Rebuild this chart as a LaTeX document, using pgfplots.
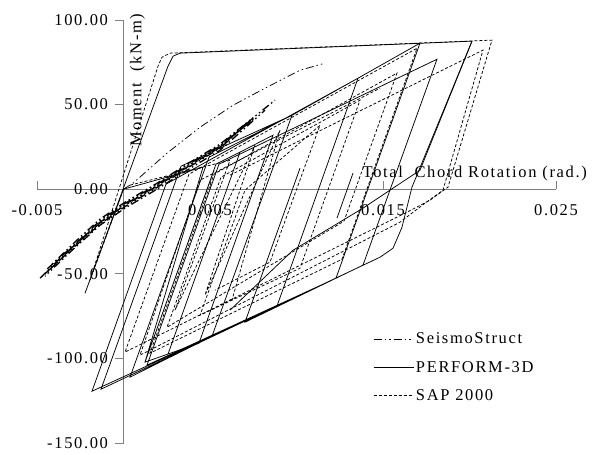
\documentclass[border=0pt]{standalone}
\usepackage{fontspec}
\setmainfont{Liberation Serif}[LetterSpace=10]
\usepackage{pgfplots}
\pgfplotsset{compat=1.18}
\newcommand\fsz{\fontsize{16.5bp}{19bp}\selectfont}

% series styles
\tikzset{
  perf/.style={black, line width=0.75bp},
  sap/.style={black, line width=0.75bp, dash pattern=on 3bp off 2bp},
  seismo/.style={black, line width=0.75bp, dash pattern=on 8bp off 3bp on 1.5bp off 3bp on 1.5bp off 3bp},
}

\begin{document}
\begin{tikzpicture}
\begin{axis}[
  scale only axis, width=519bp, height=423bp,
  xmin=-0.005, xmax=0.025, ymin=-150, ymax=100,
  axis lines=middle,
  axis line style={draw=gray, line width=0.8bp, -},
  scaled x ticks=false, scaled y ticks=false,
  xtick={-0.005,0.005,0.015,0.025},
  xticklabels={\mbox{-0.005},\mbox{0.005},\mbox{0.015},\mbox{0.025}},
  ytick={-150,-100,-50,0,50,100},
  yticklabels={\mbox{-150.00},\mbox{-100.00},\mbox{-50.00},\mbox{0.00},\mbox{50.00},\mbox{100.00}},
  hide obscured x ticks=false, hide obscured y ticks=false,
  tick align=center, major tick length=8bp,
  tick style={draw=gray, line width=0.8bp},
  xtick style={yshift=4bp},
  ytick style={xshift=-4bp},
  tick label style={font=\fsz},
  xticklabel style={anchor=north, yshift=-8bp},
  yticklabel style={anchor=east, xshift=-8bp},
  clip=false,
  legend style={draw=none, fill=none, font=\fsz, at={(axis cs:0.01425,-82.4)}, anchor=north west, row sep=12bp},
  legend cell align=left,
  legend image code/.code={\draw[#1] (0bp,0bp) -- (40bp,0bp);},
]
\coordinate (O) at (axis cs:-0.005,-150);

% SeismoStruct
\addplot[seismo] coordinates {
(0,0) (0.000549,3.5) (0.002514,21.3) (0.004422,36.6) (0.006329,49.6) (0.008294,60.3) (0.010202,70.3) (0.011647,74.5)
};
\addlegendentry{SeismoStruct}

% PERFORM-3D
\addplot[perf] coordinates {
(0,0) (-0.002225,-61.5) (0.002572,72.7) (0.002861,78.6) (0.003266,80.4) (0.020143,87.5)
(0.016675,1.2) (0.016097,-22.5) (0.015577,-34.9) (0.014826,-40.2) (-0.0013,-118.2)
(0.003324,13.6) (0.004422,18.9) (0.009739,43.7) (0.005115,-86.9) (0.000376,-111.1)
(0.004942,18.9) (0.009739,43.7) (0.013554,65.6) (0.008872,-69.1) (-0.001821,-119.4)
(0.002457,3.0) (0.013554,65.6) (0.017138,86.3) (0.012283,-52.6) (0.001358,-104.0)
(0.00552,14.8) (0.01812,76.8) (0.013843,-44.9) (0.007023,-78.6) (0.010202,12.4)
};
\addlegendentry{PERFORM-3D}

% SAP 2000
\addplot[sap] coordinates {
(0,0) (-0.001936,-53.8) (0.001994,72.7) (0.002225,78.0) (0.002688,80.4) (0.021299,88.1)
(0.018756,1.2) (0.017716,-6.5) (0.016386,-13.6) (0.000087,-96.3)
(0.003786,8.9) (0.016964,83.3) (0.012629,-41.4) (0.001532,-96.9)
(0.005231,8.9) (0.015808,68.6) (0.012745,-18.9) (0.002514,-81.6)
(0.005636,7.1) (0.01367,52.6) (0.010202,-46.7) (0.004422,-74.5)
(0.007023,-0.6) (0.011358,37.8) (0.008468,-43.1) (0.005289,-59.7)
};
\addlegendentry{SAP 2000}

% further PERFORM-3D cycles
\addplot[perf, forget plot] coordinates {
(0,0) (0.004595,13.0) (0.001243,-102.2) (0.005347,14.8) (0.006734,21.9) (0.002572,-97.5)
(0.006734,21.9) (0.008641,31.9) (0.004364,-91.0) (0.001243,-102.2) (0.005231,11.2)
};
\addplot[perf, forget plot] coordinates {
(0.006156,-71.5) (0.009797,-36.1) (0.013843,-11.2) (0.017138,11.2) (0.020143,87.5)
};
\addplot[perf, forget plot] coordinates {(0.01234,-17.1) (0.013266,9.5)};

% further SAP 2000 cycles
\addplot[sap, forget plot] coordinates {
(0.006156,8.3) (0.020779,82.2) (0.018467,-0.6) (0.017427,-8.3) (0.015982,-19.5) (0.000954,-98.1)
(0.004422,5.3) (0.014826,59.7)
};
\addplot[sap, forget plot] coordinates {
(0.000376,2.4) (0.006156,17.1) (0.002977,-71.5) (0.007601,26.0) (0.004711,-62.6) (0.009046,34.9) (0.006271,-65.6)
};

% further SeismoStruct cycles, overlapping into a dense band
\addplot[seismo, line width=1.3bp, forget plot] coordinates {
(-0.004826,-52.6) (-0.00367,-40.8) (-0.002514,-30.1) (-0.001358,-19.5) (0.000087,-9.5)
(0.001936,1.8) (0.00367,13.0) (0.005578,24.8) (0.007601,43.1) (0.008757,52.6)
};
\addplot[seismo, line width=1.3bp, dash phase=4bp, forget plot] coordinates {
(0.008179,46.7) (0.005578,23.0) (0.00367,11.2) (0.001936,0) (0.000087,-11.2)
(-0.001358,-21.3) (-0.003092,-37.2) (-0.004537,-51.4)
};
\addplot[seismo, line width=1.3bp, dash phase=8bp, forget plot] coordinates {
(-0.004248,-45.5) (-0.002514,-28.4) (-0.001358,-17.7) (0.000087,-7.7) (0.001936,3.5)
(0.00367,14.8) (0.005578,26.6) (0.007312,40.8)
};
\addplot[seismo, line width=1.3bp, dash phase=12bp, forget plot] coordinates {
(-0.004537,-50.2) (-0.002800,-33.0) (-0.001358,-20.0) (0.000087,-9.0) (0.001936,2.2)
(0.00367,13.5) (0.005578,25.5) (0.007601,42.0)
};
\addplot[seismo, line width=1.3bp, dash phase=16bp, forget plot] coordinates {
(-0.004700,-51.5) (-0.003000,-35.5) (-0.001358,-20.6) (0.000087,-10.3) (0.001936,1.0)
(0.00367,12.4) (0.005578,24.2) (0.007450,41.5)
};
\addplot[seismo, line width=1.3bp, dash phase=20bp, forget plot] coordinates {
(-0.004400,-47.0) (-0.002650,-31.0) (-0.001358,-18.6) (0.000087,-8.4) (0.001936,2.8)
(0.00367,14.2) (0.005578,25.9) (0.007500,42.3)
};

\node[font=\fsz, rotate=90, anchor=center] at (axis cs:0.00081,64.4) {Moment\ \ (kN-m)};
\node[font=\fsz, anchor=east, inner sep=0pt] at (axis cs:0.02679,9.5) {Total\ \ Chord Rotation\ (rad.)};
\end{axis}
\pgfresetboundingbox
\path (O) ++(-37bp,-12bp) rectangle ++(592bp,455bp);
\end{tikzpicture}
\end{document}
